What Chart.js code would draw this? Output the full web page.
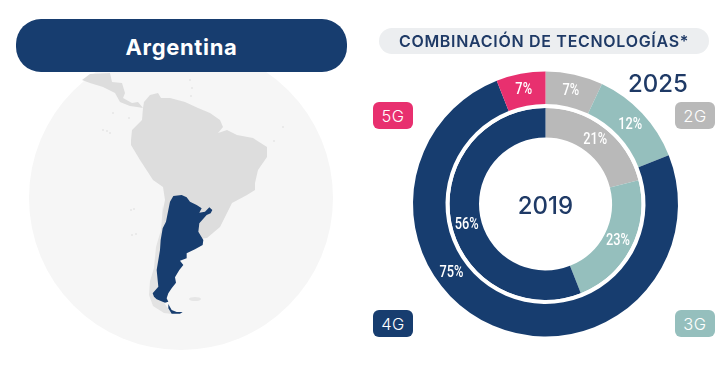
<!DOCTYPE html>
<html>
<head>
<meta charset="utf-8">
<title>Argentina</title>
<script src="https://cdn.jsdelivr.net/npm/chart.js@4"></script>
<style>
  html, body { margin: 0; padding: 0; background: #fff; }
  #page { position: relative; width: 720px; height: 376px; overflow: hidden; font-family: Inter, sans-serif; }
  #page > * { position: absolute; }
  #map { left: 0; top: 0; }
  #chart { left: 0; top: 0; }
  #country {
    left: 16px; top: 19px; width: 331px; height: 53px; border-radius: 25px;
    background: #173d6f; color: #fff; font-size: 22px; font-weight: 700;
    line-height: 56px; text-align: center; letter-spacing: 0.65px;
  }
  #heading {
    left: 379px; top: 28px; width: 330px; height: 26px; border-radius: 13px;
    background: #eceef0; color: #1f3a66; font-size: 16px; font-weight: 600;
    line-height: 27px; text-align: center; letter-spacing: 0.7px; white-space: nowrap;
  }
  .tag {
    width: 40px; height: 27px; border-radius: 6px; color: #fff;
    font-size: 16.5px; font-weight: 300; line-height: 29px; text-align: center; letter-spacing: 0.5px;
  }
</style>
</head>
<body>
<div id="page">
  <svg id="map" width="720" height="376" viewBox="0 0 720 376">
    <circle cx="181" cy="198" r="152" fill="#f6f6f6"/>
    <g fill="#dddddd">
      <path d="M82 80L90 74L110 73L112 82L122 83L125 93L123 98L132 103L138 102L143 108L137 107L130 106L120 102L115 93L103 87L90 83Z"/>
      <path d="M143 108L144 102L150 95L158 93L161 98L170 98L185 102L198 108L210 113L220 120L223 127L218 133L227 130L237 135L253 138L267 147L267 157L258 170L255 183L255 190L247 195L232 203L227 213L220 227L207 238L190 240L170 250L162 240L163 210L165 200L163 187L153 180L140 160L131 145L131 140L132 130L142 120Z"/>
    </g>
    <path fill="#e3e3e3" d="M163 205L166 250L162 300L172 314L164 313L153 306L149 295L150 281L154 268L156 247L161 230Z"/>
    <g fill="#e6e6e6">
      <ellipse cx="195" cy="299" rx="6" ry="2"/>
      <circle cx="103" cy="130" r="1"/><circle cx="107" cy="131" r="1"/><circle cx="110" cy="133" r="1"/>
      <circle cx="113" cy="113" r="1"/><circle cx="129" cy="118" r="1"/>
      <circle cx="190" cy="80" r="1"/><circle cx="192" cy="88" r="1"/><circle cx="191" cy="96" r="1"/>
      <circle cx="274" cy="141" r="1"/><circle cx="283" cy="127" r="1"/>
      <circle cx="131" cy="210" r="1"/><circle cx="134" cy="209" r="1"/><circle cx="132" cy="235" r="1"/><circle cx="136" cy="234" r="1"/>
    </g>
    <g fill="#173d6f" transform="translate(140 190) scale(0.3333)">
      <path d="M100 18L125 15L140 22L150 35L170 45L185 55L178 68L195 65L208 52L217 60L212 70L200 75L178 100L175 125L190 150L188 165L165 178L140 190L140 205L120 212L130 225L118 240L105 262L108 278L95 295L85 310L80 325L85 335L75 338L50 328L42 320L38 310L55 290L50 240L60 180L62 150L68 115L78 95L85 60L90 35Z"/>
      <path d="M85 342L95 360L110 366L128 366L120 371L95 371L85 355Z"/>
    </g>
  </svg>
  <canvas id="chart" width="720" height="376"></canvas>
  <div id="country">Argentina</div>
  <div id="heading">COMBINACIÓN DE TECNOLOGÍAS*</div>
  <div class="tag" style="left:373px;top:102px;background:#e8306f">5G</div>
  <div class="tag" style="left:675px;top:102px;background:#b9b9b9">2G</div>
  <div class="tag" style="left:373px;top:310px;background:#173d6f">4G</div>
  <div class="tag" style="left:675px;top:310px;background:#95bfbd">3G</div>
</div>
<script>
const technologies = ['2G', '3G', '4G', '5G'];
// 5G is printed as 7% but drawn as about 6% (printed figures add up to 101)
const values2025 = [7, 12, 75, 6];
const labels2025 = ['7%', '12%', '75%', '7%'];
const values2019 = [21, 23, 56, 0];
const labels2019 = ['21%', '23%', '56%', ''];
const colors = ['#b9b9b9', '#95bfbd', '#173d6f', '#e8306f'];

// the 4G labels don't sit mid-slice, they are pushed round to the left side
const labelTurn = { outer: { 2: 0.65 }, inner: { 2: 0.71 } };

const sliceLabels = {
  id: 'sliceLabels',
  afterDatasetsDraw(chart) {
    const ctx = chart.ctx;
    chart.data.datasets.forEach((ds, i) => {
      if (!ds.sliceText) return;
      chart.getDatasetMeta(i).data.forEach((arc, j) => {
        if (!ds.sliceText[j]) return;
        const p = arc.getProps(['x', 'y', 'startAngle', 'endAngle', 'innerRadius', 'outerRadius']);
        const turn = ds.labelTurn[j];
        const angle = turn !== undefined ? turn * Math.PI * 2 - Math.PI / 2 : (p.startAngle + p.endAngle) / 2;
        const r = (p.innerRadius + p.outerRadius) / 2;
        ctx.save();
        ctx.translate(p.x + Math.cos(angle) * r, p.y + Math.sin(angle) * r + 0.5);
        ctx.scale(0.8, 1); // source font is condensed
        ctx.font = '500 16px Roboto, sans-serif';
        ctx.fillStyle = '#fff';
        ctx.textAlign = 'center';
        ctx.textBaseline = 'middle';
        ctx.fillText(ds.sliceText[j], 0, 0);
        ctx.restore();
      });
    });
  }
};

const yearLabels = {
  id: 'yearLabels',
  afterDraw(chart) {
    const ctx = chart.ctx;
    const c = chart.getDatasetMeta(0).data[0];
    ctx.save();
    ctx.font = '500 24px Inter, sans-serif';
    ctx.fillStyle = '#1f3a66';
    ctx.textAlign = 'center';
    ctx.textBaseline = 'middle';
    ctx.fillText('2019', c.x, c.y + 2.5);
    ctx.fillText('2025', 658, 85);
    ctx.restore();
  }
};

new Chart(document.getElementById('chart'), {
  type: 'doughnut',
  data: {
    labels: technologies,
    datasets: [
      { data: values2025, backgroundColor: colors, weight: 32.5, borderWidth: 0, sliceText: labels2025, labelTurn: labelTurn.outer },
      { data: [1], backgroundColor: '#fff', weight: 4, borderWidth: 0 },
      { data: values2019, backgroundColor: colors, weight: 29.5, borderWidth: 0, sliceText: labels2019, labelTurn: labelTurn.inner }
    ]
  },
  options: {
    responsive: false,
    animation: false,
    cutout: 66.5,
    layout: { padding: { left: 413, right: 42, top: 71.5, bottom: 39.5 } },
    plugins: { legend: { display: false }, tooltip: { enabled: false } }
  },
  plugins: [sliceLabels, yearLabels]
});
</script>
</body>
</html>
